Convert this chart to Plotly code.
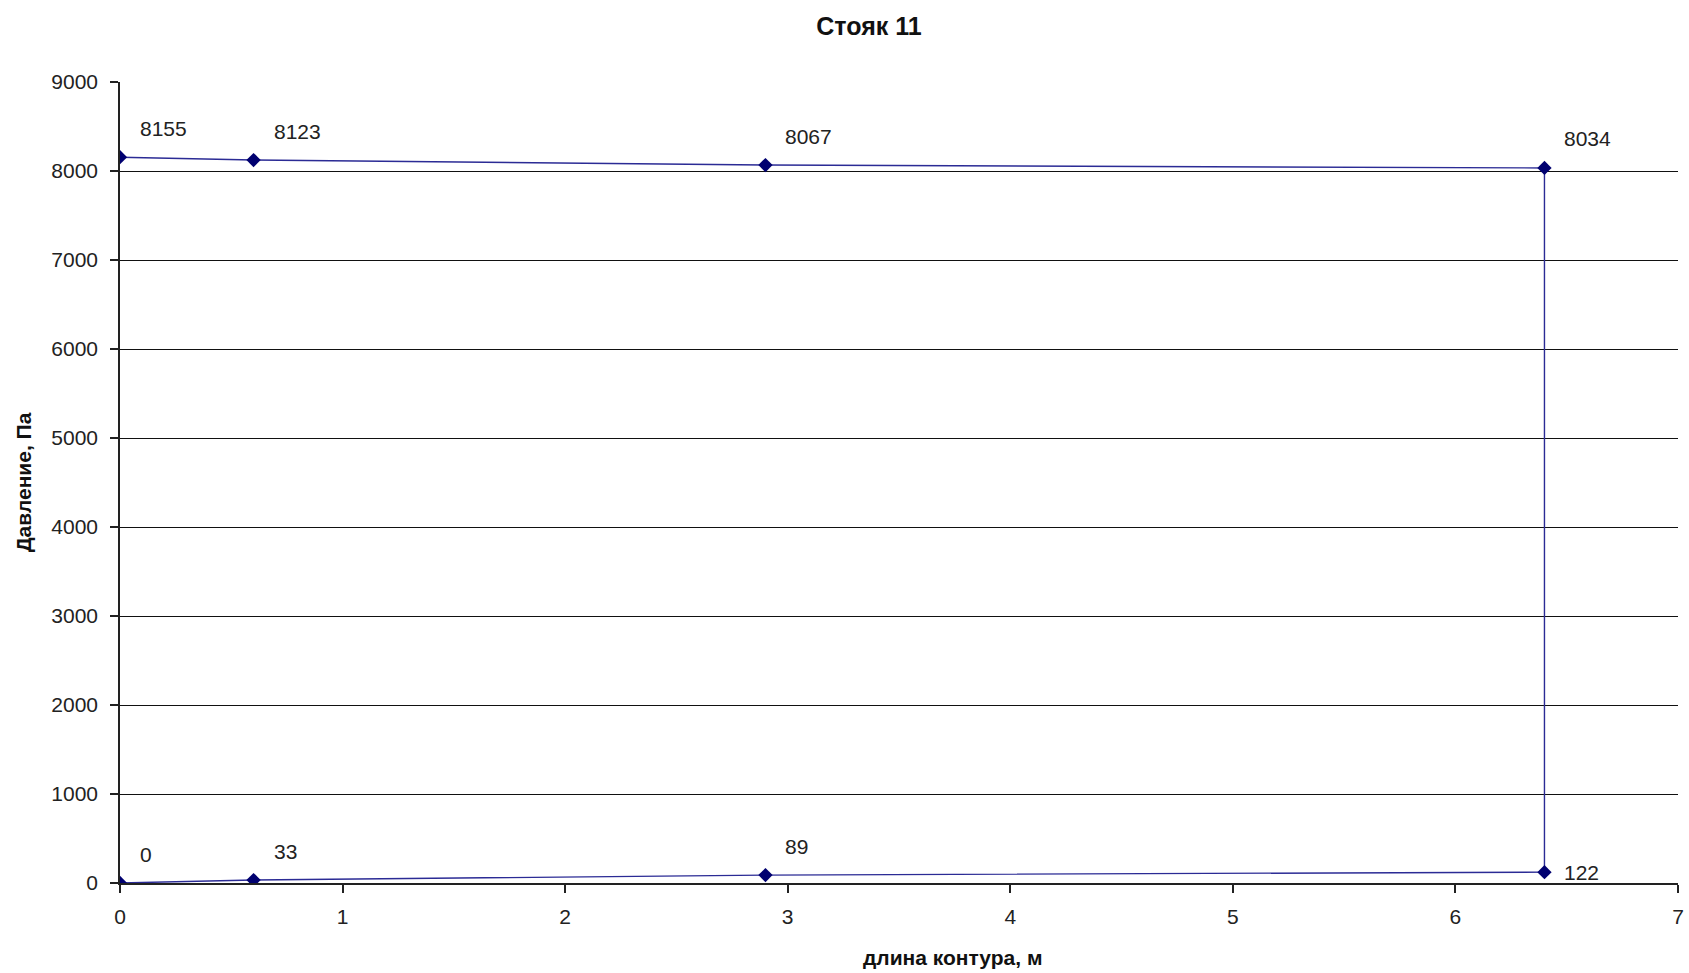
import plotly.graph_objects as go

# Data
x_len = [0, 0.6, 2.9, 6.4, 6.4, 2.9, 0.6, 0]
pressure = [0, 33, 89, 122, 8034, 8067, 8123, 8155]
point_labels = ["0", "33", "89", "122", "8034", "8067", "8123", "8155"]
x_ticks = [0, 1, 2, 3, 4, 5, 6, 7]
y_ticks = [0, 1000, 2000, 3000, 4000, 5000, 6000, 7000, 8000, 9000]

title = "Стояк 11"
x_title = "длина контура, м"
y_title = "Давление, Па"

font_family = "Liberation Sans, Arial, sans-serif"

W, H = 1689, 973
ML, MR, MT, MB = 120, 11, 82, 90

fig = go.Figure()
fig.add_trace(go.Scatter(
    x=x_len, y=pressure, mode="lines+markers",
    line=dict(color="#2b2b95", width=1.4),
    marker=dict(symbol="diamond", size=11, color="#000070"),
    showlegend=False, hoverinfo="x+y",
))

annotations = []
for xv, yv, lab in zip(x_len, pressure, point_labels):
    ys = 0 if lab == "122" else 29
    annotations.append(dict(
        x=xv, y=yv, xref="x", yref="y", text=lab, showarrow=False,
        xanchor="left", yanchor="middle", xshift=18, yshift=ys,
        font=dict(size=21, color="#222222", family=font_family),
    ))

plot_w = W - ML - MR
plot_h = H - MT - MB
annotations.append(dict(
    x=(952 - ML) / plot_w, y=(H - MB - 957) / plot_h, xref="paper", yref="paper",
    text="<b>" + x_title + "</b>", showarrow=False,
    xanchor="center", yanchor="middle",
    font=dict(size=21, color="#111111", family=font_family),
))

fig.update_layout(
    width=W, height=H,
    paper_bgcolor="white", plot_bgcolor="white",
    margin=dict(l=ML, r=MR, t=MT, b=MB),
    font=dict(family=font_family, color="#111111"),
    title=dict(text="<b>" + title + "</b>", x=869 / W, xanchor="center",
               y=1 - 26 / H, yanchor="middle",
               font=dict(size=25, color="#111111", family=font_family)),
    annotations=annotations,
)

fig.update_xaxes(
    range=[0, 7], tickvals=x_ticks, ticktext=[str(v) for v in x_ticks],
    showgrid=False, zeroline=False, automargin=False,
    showline=True, linecolor="#222222", linewidth=1.5,
    ticks="outside", ticklen=8, tickcolor="#222222", tickwidth=1.5,
    ticklabelstandoff=6,
    tickfont=dict(size=21, color="#222222"),
)
fig.update_yaxes(
    range=[0, 9000], tickvals=y_ticks, ticktext=[str(v) for v in y_ticks],
    showgrid=True, gridcolor="#111111", gridwidth=1.3, zeroline=False,
    showline=True, linecolor="#222222", linewidth=1.5,
    ticks="outside", ticklen=8, tickcolor="#222222", tickwidth=1.5,
    ticklabelstandoff=8,
    tickfont=dict(size=21, color="#222222"),
    title=dict(text="<b>" + y_title + "</b>", font=dict(size=21, color="#111111"), standoff=14),
)

fig.write_html("out.html")
